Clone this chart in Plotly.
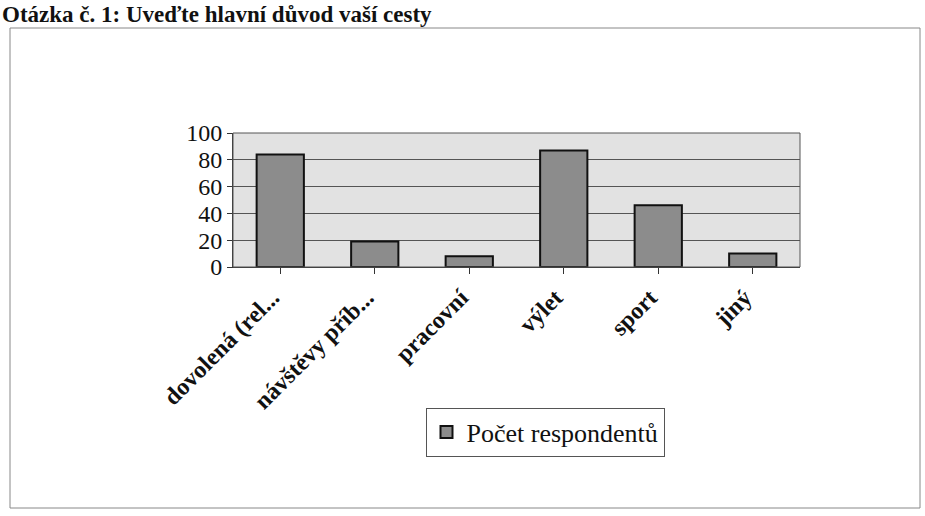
import plotly.graph_objects as go

categories = ["dovolená (rel...", "návštěvy příb...", "pracovní", "výlet", "sport", "jiný"]
values = [84, 19, 8, 87, 46, 10]
series_name = "Počet respondentů"
title_text = "Otázka č. 1: Uveďte hlavní důvod vaší cesty"
y_ticks = [0, 20, 40, 60, 80, 100]

W, H = 925, 516
L, R, T, B = 233, 125, 133, 249
PW, PH = W - L - R, H - T - B

def px_x(x):
    return (x - L) / PW

def px_y(y):
    return (H - B - y) / PH

fig = go.Figure()
fig.add_trace(go.Bar(
    x=categories, y=values, name=series_name,
    marker=dict(color="#8c8c8c", line=dict(color="#111111", width=2)),
    width=0.5, showlegend=True,
))

fig.update_layout(
    width=W, height=H,
    margin=dict(l=L, r=R, t=T, b=B, autoexpand=False),
    paper_bgcolor="white",
    plot_bgcolor="#e2e2e2",
    font=dict(family="Liberation Serif", color="#111111"),
    showlegend=True,
    legend=dict(
        x=px_x(545), y=px_y(432), xanchor="center", yanchor="middle",
        orientation="h",
        bgcolor="white", bordercolor="#555555", borderwidth=1,
        font=dict(family="Liberation Serif", size=26, color="#111111"),
        itemsizing="constant",
    ),
    xaxis=dict(
        automargin=False,
        tickangle=-45,
        tickfont=dict(family="Liberation Serif", size=24, color="#111111", weight="bold"),
        ticklabelshift=-8,
        showline=True, linecolor="#333333", linewidth=1,
        ticks="outside", ticklen=6, tickcolor="#333333",
        showgrid=False,
    ),
    yaxis=dict(
        automargin=False,
        range=[0, 100], tickvals=y_ticks,
        tickfont=dict(family="Liberation Serif", size=24, color="#111111"),
        showline=True, linecolor="#333333", linewidth=1,
        ticks="outside", ticklen=5, tickcolor="#333333",
        showgrid=True, gridcolor="#555555", gridwidth=1,
        zeroline=False,
    ),
    bargap=0.5,
)

# outer chart border
fig.add_shape(type="rect", xref="paper", yref="paper",
              x0=px_x(10), x1=px_x(920), y0=px_y(508), y1=px_y(28),
              line=dict(color="#888888", width=1), fillcolor="rgba(0,0,0,0)", layer="below")
# plot area border
fig.add_shape(type="rect", xref="paper", yref="paper", x0=0, x1=1, y0=0, y1=1,
              line=dict(color="#555555", width=1))

fig.add_annotation(text=title_text, xref="paper", yref="paper",
                   x=px_x(0), y=px_y(14),
                   xanchor="left", yanchor="middle", showarrow=False,
                   font=dict(family="Liberation Serif", size=23, color="#111111", weight="bold"))

fig.write_html("out.html", config={"displayModeBar": False},
               post_script="document.body.style.margin='0';document.body.style.padding='0';")
